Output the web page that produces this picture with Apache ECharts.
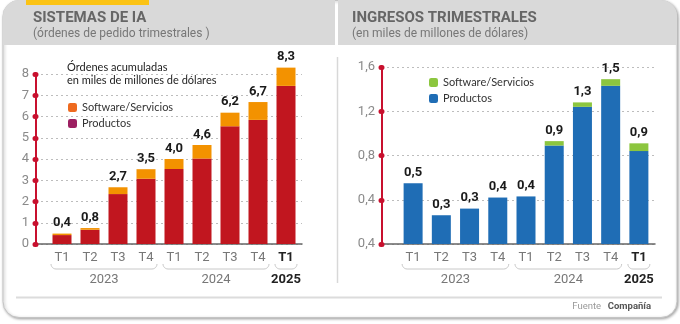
<!DOCTYPE html>
<html><head><meta charset="utf-8">
<script src="https://cdn.jsdelivr.net/npm/echarts@6/dist/echarts.min.js"></script>
<style>html,body{margin:0;padding:0;background:#fff}#c{width:680px;height:324px}</style>
</head><body><div id="c"></div>
<script>
const categories = ['T1','T2','T3','T4','T1','T2','T3','T4','T1'];
const years = ['2023','2024','2025'];
const yearSpans = [[0,3],[4,7],[8,8]];
const ordersProducts = [0.42,0.67,2.35,3.07,3.53,4.02,5.54,5.84,7.44];
const ordersSoftware = [0.07,0.08,0.32,0.45,0.47,0.64,0.64,0.84,0.86];
const ordersLabels = ['0,4','0,8','2,7','3,5','4,0','4,6','6,2','6,7','8,3'];
const ordersTicks = ['0','1','2','3','4','5','6','7','8'];
const revProducts = [0.55,0.26,0.32,0.42,0.43,0.89,1.24,1.43,0.84];
const revSoftware = [0,0,0,0,0,0.04,0.04,0.06,0.07];
const revLabels = ['0,5','0,3','0,3','0,4','0,4','0,9','1,3','1,5','0,9'];
const revTicks = ['0,4','0,4','0,8','1,2','1,6'];
const legendNames = {sw1:'Software/Servicios', pr1:'Productos', sw2:'Software/Servicios', pr2:'Productos'};

const RED = '#c8102e';
const FONT = 'Roboto';
const chart = echarts.init(document.getElementById('c'));

function axisGridY(grid, max, interval, ticks){
  return {gridIndex:grid, type:'value', min:0, max:max, interval:interval,
    axisLine:{show:true, lineStyle:{color:RED, width:2}},
    axisTick:{show:true, length:1, lineStyle:{color:RED, width:5, cap:'round'}},
    axisLabel:{color:'#8a8a8a', fontSize:13, fontFamily:FONT, margin:7, formatter:(v,i)=>ticks[i]},
    splitLine:{show:true, lineStyle:{color:'#bdbdbd', type:[2,3], width:1}}};
}
function hiddenY(grid, max){ return {gridIndex:grid, type:'value', min:0, max:max, show:false}; }
function baseX(grid){
  return {gridIndex:grid, type:'value', min:0, max:1,
    axisLine:{show:true, onZero:false, lineStyle:{color:'#666', width:1.5}},
    axisLabel:{show:false}, axisTick:{show:false}, splitLine:{show:false}};
}
function catX(grid){
  return {gridIndex:grid, type:'category', data:categories,
    axisLine:{show:false}, axisTick:{show:false},
    axisLabel:{interval:0, color:'#777', fontSize:13, fontFamily:FONT, margin:7,
      formatter:(v,i)=> i===8 ? '{b|'+v+'}' : v,
      rich:{b:{fontWeight:'bold', color:'#222', fontSize:13, fontFamily:FONT}}}};
}
function labelCfg(labels){
  return {show:true, position:'top', distance:4, fontFamily:FONT, fontWeight:'bold', fontSize:13, color:'#1a1a1a',
    formatter:p=>labels[p.dataIndex]};
}
function legendCfg(left, top, swColor, prColor, sw, pr){
  return {orient:'vertical', left:left, top:top, itemWidth:9, itemHeight:9, itemGap:5, icon:'roundRect',
    selectedMode:false, padding:0,
    textStyle:{fontSize:11, color:'#333', fontFamily:'Lato'},
    formatter:n=>legendNames[n],
    data:[{name:sw, itemStyle:{color:swColor}},{name:pr, itemStyle:{color:prColor}}]};
}

chart.setOption({
  animation:false,
  grid:[
    {left:36, right:378, top:74, bottom:80},
    {left:48, right:380, top:74, bottom:80},
    {left:382, right:25, top:67, bottom:80},
    {left:399, right:27, top:67, bottom:80}
  ],
  xAxis:[baseX(0), catX(1), baseX(2), catX(3)],
  yAxis:[axisGridY(0,8,1,ordersTicks), hiddenY(1,8), axisGridY(2,1.6,0.4,revTicks), hiddenY(3,1.6)],
  legend:[legendCfg(68,102,'#ee6a1f','#9c1f61','sw1','pr1'), legendCfg(429,77,'#8cc63f','#1f6db5','sw2','pr2')],
  series:[
    {name:'pr1', type:'bar', xAxisIndex:1, yAxisIndex:1, stack:'a', barWidth:19, clip:false, data:ordersProducts, itemStyle:{color:'#c1161f'}},
    {name:'sw1', type:'bar', xAxisIndex:1, yAxisIndex:1, stack:'a', barWidth:19, clip:false, data:ordersSoftware, itemStyle:{color:'#f39200'}, label:labelCfg(ordersLabels)},
    {name:'pr2', type:'bar', xAxisIndex:3, yAxisIndex:3, stack:'b', barWidth:19, clip:false, data:revProducts, itemStyle:{color:'#1f6db5'}},
    {name:'sw2', type:'bar', xAxisIndex:3, yAxisIndex:3, stack:'b', barWidth:19, clip:false, data:revSoftware, itemStyle:{color:'#8cc63f'}, label:labelCfg(revLabels)}
  ]
});

// decorations and year groups, positioned from the axes
const els = [
  {type:'rect', z:-10, shape:{x:3, y:0.5, width:674, height:317, r:16}, style:{fill:'#fff', stroke:'#c4c4c4', lineWidth:1, shadowBlur:3, shadowColor:'rgba(0,0,0,0.35)', shadowOffsetX:1, shadowOffsetY:1}},
  {type:'rect', z:-9, shape:{x:3, y:0, width:332, height:45, r:[16,0,0,0]}, style:{fill:'#d9d9d9'}},
  {type:'rect', z:-9, shape:{x:338, y:0, width:339, height:45, r:[0,16,0,0]}, style:{fill:'#d9d9d9'}},
  {type:'rect', z:-8, shape:{x:26, y:0, width:123, height:5}, style:{fill:'#fbc315'}},
  {type:'line', z:-8, shape:{x1:337.5, y1:57, x2:337.5, y2:283}, style:{stroke:'#d8d8d8', lineWidth:1.5}},
  {type:'line', z:-8, shape:{x1:16, y1:297.5, x2:662, y2:297.5}, style:{stroke:'#dcdcdc', lineWidth:2}},
  {type:'text', z:10, x:33, y:18, style:{text:'SISTEMAS DE IA', font:'bold 15px Roboto', fill:'#666', verticalAlign:'middle'}},
  {type:'text', z:10, x:33, y:34, style:{text:'(órdenes de pedido trimestrales )', font:'12px Roboto', fill:'#777', verticalAlign:'middle'}},
  {type:'text', z:10, x:352, y:18, style:{text:'INGRESOS TRIMESTRALES', font:'bold 15px Roboto', fill:'#666', verticalAlign:'middle'}},
  {type:'text', z:10, x:352, y:34, style:{text:'(en miles de millones de dólares)', font:'12px Roboto', fill:'#777', verticalAlign:'middle'}},
  {type:'text', z:10, x:67, y:67, style:{text:'Órdenes acumuladas', font:'11px Lato', fill:'#222', verticalAlign:'middle'}},
  {type:'text', z:10, x:67, y:80, style:{text:'en miles de millones de dólares', font:'11px Lato', fill:'#222', verticalAlign:'middle'}},
  {type:'text', z:10, x:651, y:307, style:{text:'{a|Fuente}  {b|Compañía}', align:'right', verticalAlign:'middle',
     rich:{a:{fontSize:9.5, fontFamily:FONT, fill:'#999', color:'#999'}, b:{fontSize:9.5, fontFamily:FONT, fontWeight:'bold', color:'#555', fill:'#555'}}}}
];
function bracketPoints(x1, x2, y1, y2){
  const r = y2 - y1, pts = [];
  for (let i=0;i<=6;i++){ const a = Math.PI*i/12; pts.push([x1 + r - r*Math.cos(a), y1 + r*Math.sin(a)]); }
  for (let i=6;i>=0;i--){ const a = Math.PI*i/12; pts.push([x2 - r + r*Math.cos(a), y1 + r*Math.sin(a)]); }
  return pts;
}
[1,3].forEach(ax=>{
  yearSpans.forEach((sp,k)=>{
    const x1 = chart.convertToPixel({xAxisIndex:ax}, sp[0]) - 11;
    const x2 = chart.convertToPixel({xAxisIndex:ax}, sp[1]) + 11;
    els.push({type:'polyline', z:5, shape:{points:bracketPoints(x1, x2, 264, 269)},
      style:{fill:null, stroke:'#c8c8c8', lineWidth:1}});
    const last = k===2;
    els.push({type:'text', z:10, x:(x1+x2)/2, y:280, style:{text:years[k], font:(last?'bold ':'')+'13px Roboto', fill:last?'#222':'#777', align:'center', verticalAlign:'middle'}});
  });
});
chart.setOption({graphic:{elements:els}});
</script></body></html>
